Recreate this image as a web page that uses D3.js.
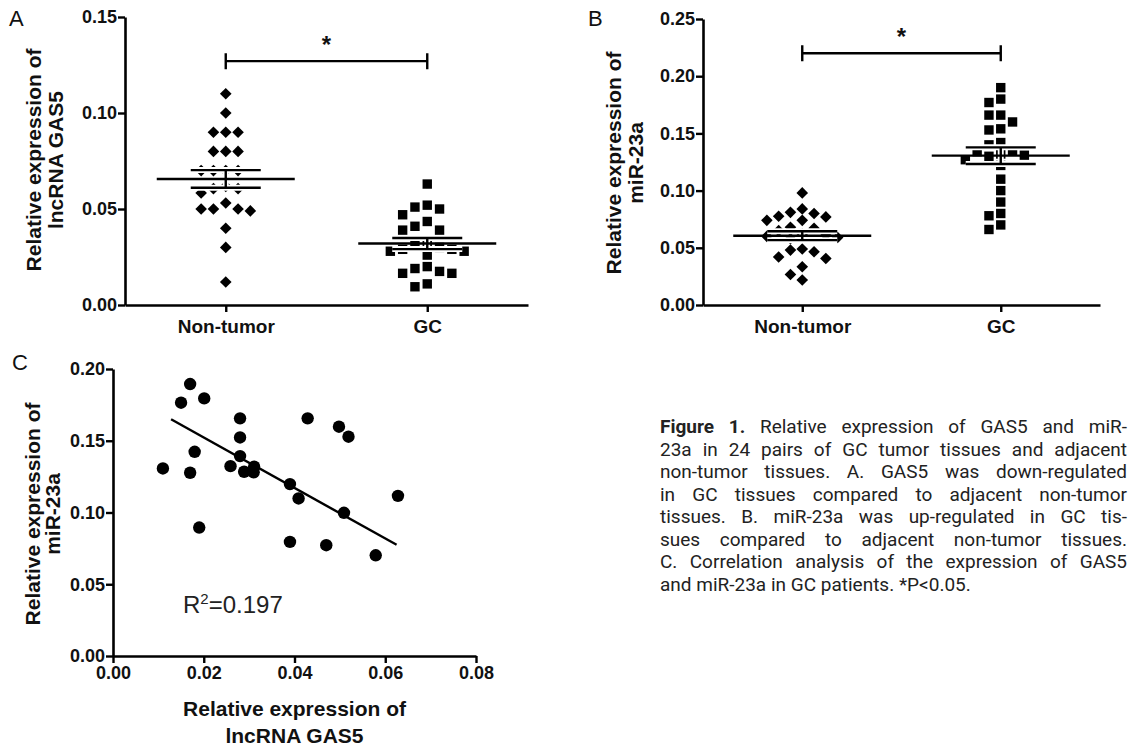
<!DOCTYPE html>
<html>
<head>
<meta charset="utf-8">
<script src="https://cdn.jsdelivr.net/npm/d3@7"></script>
<style>
  body { margin: 0; background: #fff; }
  svg { display: block; }
</style>
</head>
<body>
<svg id="fig" width="1140" height="746"></svg>
<script>
// Panel A: lncRNA GAS5 relative expression
const gasNonTumor = [0.110, 0.100, 0.090, 0.090, 0.090, 0.080, 0.080, 0.080, 0.070, 0.070, 0.070, 0.070,
    0.0618, 0.0606, 0.0606, 0.0583, 0.0531, 0.050, 0.050, 0.050, 0.049, 0.040, 0.030, 0.012];
const gasGC = [0.063, 0.052, 0.051, 0.050, 0.047, 0.0435, 0.041, 0.039, 0.039, 0.032, 0.031, 0.030,
    0.029, 0.029, 0.028, 0.028, 0.026, 0.020, 0.019, 0.0175, 0.0165, 0.0165, 0.011, 0.0095];

// Panel B: miR-23a relative expression
const mirNonTumor = [0.098, 0.084, 0.081, 0.080, 0.0776, 0.077, 0.074, 0.074, 0.068, 0.067, 0.065, 0.062,
    0.061, 0.060, 0.059, 0.058, 0.049, 0.048, 0.0465, 0.042, 0.0407, 0.0334, 0.0267, 0.0218];
const mirGC = [0.190, 0.180, 0.177, 0.166, 0.166, 0.160, 0.154, 0.153, 0.142, 0.140, 0.135, 0.134,
    0.132, 0.131, 0.130, 0.127, 0.122, 0.110, 0.100, 0.090, 0.080, 0.078, 0.070, 0.066];

// Panel C: GAS5 (x) vs miR-23a (y) in GC patients
const corrGAS5 = [0.011, 0.015, 0.017, 0.0201, 0.018, 0.017, 0.019, 0.028, 0.028, 0.028, 0.0259, 0.0289,
    0.0311, 0.031, 0.0429, 0.039, 0.0409, 0.039, 0.047, 0.0498, 0.0519, 0.0509, 0.0579, 0.0628];
const corrMiR = [0.1307, 0.1765, 0.1895, 0.1795, 0.1423, 0.1277, 0.0895, 0.1656, 0.1523, 0.1393, 0.1323, 0.1284,
    0.1319, 0.128, 0.1656, 0.1198, 0.1098, 0.0795, 0.0772, 0.1598, 0.1528, 0.0998, 0.0702, 0.1116];
const fitGAS5 = [0.0128, 0.0625];
const fitMiR = [0.165, 0.0775];
const rSquared = "0.197";

const groups = ["Non-tumor", "GC"];
const ticksA = [0, 0.05, 0.10, 0.15];
const ticksB = [0, 0.05, 0.10, 0.15, 0.20, 0.25];
const ticksCx = [0, 0.02, 0.04, 0.06, 0.08];
const ticksCy = [0, 0.05, 0.10, 0.15, 0.20];
const sigA = 0.127;   // height of the significance bracket
const sigB = 0.220;

const captionLines = [
    ["Figure 1.", " Relative expression of GAS5 and miR-"],
    ["", "23a in 24 pairs of GC tumor tissues and adjacent"],
    ["", "non-tumor tissues. A. GAS5 was down-regulated"],
    ["", "in GC tissues compared to adjacent non-tumor"],
    ["", "tissues. B. miR-23a was up-regulated in GC tis-"],
    ["", "sues compared to adjacent non-tumor tissues."],
    ["", "C. Correlation analysis of the expression of GAS5"],
    ["", "and miR-23a in GC patients. *P<0.05."]
];

const svg = d3.select("#fig");
const FONT = "'Liberation Sans', Arial, sans-serif";

function styleAxis(g, fontSize) {
    g.select(".domain").attr("stroke", "#000").attr("stroke-width", 2.6);
    g.selectAll(".tick line").attr("stroke", "#000").attr("stroke-width", 2.4);
    g.selectAll(".tick text")
        .attr("font-family", FONT)
        .attr("font-weight", "bold")
        .attr("font-size", fontSize)
        .attr("fill", "#111");
}

// simple column beeswarm, like a Prism scatter dot plot
function swarm(values, y, minGap) {
    const placed = [];
    const cols = new Array(values.length);
    const order = values.map((v, i) => i).sort((a, b) => values[b] - values[a]);
    order.forEach(i => {
        const py = y(values[i]);
        for (let k = 0; k < 40; k++) {
            const col = k === 0 ? 0 : (k % 2 ? -Math.ceil(k / 2) : k / 2);
            const clash = placed.some(p => p.col === col && Math.abs(p.py - py) < minGap);
            if (!clash) {
                placed.push({ col: col, py: py });
                cols[i] = col;
                break;
            }
        }
    });
    return cols;
}

function yTitle(x, cy, lines) {
    lines.forEach((t, i) => {
        svg.append("text")
            .attr("transform", `translate(${x[i]},${cy}) rotate(-90)`)
            .attr("text-anchor", "middle")
            .attr("font-family", FONT)
            .attr("font-weight", "bold")
            .attr("font-size", 21)
            .attr("fill", "#111")
            .text(t);
    });
}

function panelLabel(x, y, t) {
    svg.append("text")
        .attr("x", x).attr("y", y)
        .attr("font-family", FONT)
        .attr("font-size", 22)
        .attr("fill", "#111")
        .text(t);
}

function dotPanel(opt) {
    const x = d3.scalePoint().domain(groups).range([opt.x0, opt.x1]).padding(0.5);
    const y = d3.scaleLinear().domain([0, opt.yMax]).range([305, opt.yTop]);
    const g = svg.append("g");

    opt.series.forEach((vals, si) => {
        const cx = x(groups[si]);
        const cols = swarm(vals, y, 10.5);
        const marks = g.append("g");
        if (si === 0) {
            marks.selectAll("path")
                .data(vals)
                .enter()
                .append("path")
                .attr("d", "M0,-5.8L5.8,0L0,5.8L-5.8,0Z")
                .attr("transform", (d, i) => `translate(${cx + cols[i] * opt.step},${y(d)})`)
                .attr("fill", "#000");
        } else {
            marks.selectAll("rect")
                .data(vals)
                .enter()
                .append("rect")
                .attr("x", (d, i) => cx + cols[i] * opt.step - 4.7)
                .attr("y", d => y(d) - 4.7)
                .attr("width", 9.4)
                .attr("height", 9.4)
                .attr("fill", "#000");
        }

        // mean with SEM
        const m = d3.mean(vals);
        const se = d3.deviation(vals) / Math.sqrt(vals.length);
        const sem = [
            [cx - 35, y(m + se), cx + 35, y(m + se)],
            [cx - 35, y(m - se), cx + 35, y(m - se)],
            [cx, y(m + se), cx, y(m - se)]
        ];
        g.selectAll(null).data(sem).enter().append("line")
            .attr("x1", d => d[0]).attr("y1", d => d[1])
            .attr("x2", d => d[2]).attr("y2", d => d[3])
            .attr("stroke", "#fff").attr("stroke-width", 6);
        g.selectAll(null).data(sem.concat([[cx - 69, y(m), cx + 69, y(m)]])).enter().append("line")
            .attr("x1", d => d[0]).attr("y1", d => d[1])
            .attr("x2", d => d[2]).attr("y2", d => d[3])
            .attr("stroke", "#000").attr("stroke-width", 2.4);
    });

    g.append("g")
        .attr("transform", `translate(${opt.x0},0)`)
        .call(d3.axisLeft(y).tickValues(opt.ticks).tickFormat(d3.format(".2f")).tickSize(7).tickSizeOuter(0).tickPadding(1))
        .call(styleAxis, 18);
    g.append("g")
        .attr("transform", "translate(0,305)")
        .call(d3.axisBottom(x).tickSize(7).tickSizeOuter(0).tickPadding(8))
        .call(styleAxis, 19);

    // significance bracket
    const x1 = x(groups[0]), x2 = x(groups[1]), sy = y(opt.sig);
    g.append("path")
        .attr("d", `M${x1},${sy - 8}V${sy + 8}M${x1},${sy}H${x2}M${x2},${sy - 8}V${sy + 8}`)
        .attr("fill", "none").attr("stroke", "#000").attr("stroke-width", 2.4);
    g.append("text")
        .attr("x", (x1 + x2) / 2).attr("y", sy - 8)
        .attr("text-anchor", "middle")
        .attr("font-family", FONT).attr("font-weight", "bold").attr("font-size", 24)
        .attr("fill", "#111")
        .text("*");
}

// Panel A
dotPanel({ x0: 125, x1: 528, yTop: 17, yMax: 0.15, ticks: ticksA, series: [gasNonTumor, gasGC], step: 12.3, sig: sigA });
yTitle([41, 63], 160, ["Relative expression of", "lncRNA GAS5"]);
panelLabel(9, 26, "A");

// Panel B
dotPanel({ x0: 703, x1: 1100, yTop: 19, yMax: 0.25, ticks: ticksB, series: [mirNonTumor, mirGC], step: 11.8, sig: sigB });
yTitle([621, 643], 163, ["Relative expression of", "miR-23a"]);
panelLabel(588, 26, "B");

// Panel C
const xC = d3.scaleLinear().domain([0, 0.08]).range([113, 476]);
const yC = d3.scaleLinear().domain([0, 0.20]).range([656, 369]);
const gC = svg.append("g");

gC.selectAll("circle")
    .data(corrGAS5)
    .enter()
    .append("circle")
    .attr("cx", d => xC(d))
    .attr("cy", (d, i) => yC(corrMiR[i]))
    .attr("r", 6.2)
    .attr("fill", "#000");

gC.append("line")
    .attr("x1", xC(fitGAS5[0])).attr("y1", yC(fitMiR[0]))
    .attr("x2", xC(fitGAS5[1])).attr("y2", yC(fitMiR[1]))
    .attr("stroke", "#000").attr("stroke-width", 2.4);

gC.append("g")
    .attr("transform", "translate(113,0)")
    .call(d3.axisLeft(yC).tickValues(ticksCy).tickFormat(d3.format(".2f")).tickSize(7).tickSizeOuter(0).tickPadding(1))
    .call(styleAxis, 18);
gC.append("g")
    .attr("transform", "translate(0,656)")
    .call(d3.axisBottom(xC).tickValues(ticksCx).tickFormat(d3.format(".2f")).tickSize(7).tickSizeOuter(0).tickPadding(3))
    .call(styleAxis, 18);

const r2 = gC.append("text")
    .attr("x", 183).attr("y", 613)
    .attr("font-family", FONT).attr("font-size", 24).attr("fill", "#222");
r2.append("tspan").text("R");
r2.append("tspan").attr("dy", -9).attr("font-size", 15).text("2");
r2.append("tspan").attr("dy", 9).text("=" + rSquared);

yTitle([40, 60], 514, ["Relative expression of", "miR-23a"]);
["Relative expression of", "lncRNA GAS5"].forEach((t, i) => {
    svg.append("text")
        .attr("x", (113 + 476) / 2).attr("y", 716 + i * 27)
        .attr("text-anchor", "middle")
        .attr("font-family", FONT).attr("font-weight", "bold").attr("font-size", 21)
        .attr("fill", "#111")
        .text(t);
});
panelLabel(12, 370, "C");

// Caption, justified line by line
const capLeft = 660, capRight = 1127, capTop = 433, capStep = 22.5;
captionLines.forEach((ln, i) => {
    const t = svg.append("text")
        .attr("x", capLeft).attr("y", capTop + i * capStep)
        .attr("font-family", "Roboto, 'Noto Sans', sans-serif")
        .attr("font-size", 19)
        .attr("fill", "#222");
    if (ln[0]) t.append("tspan").attr("font-weight", "bold").text(ln[0]);
    t.append("tspan").text(ln[1]);
    if (i < captionLines.length - 1) {
        const natural = t.node().getComputedTextLength();
        const spaces = (ln[0] + ln[1]).split(" ").length - 1;
        if (spaces > 0) t.attr("word-spacing", (capRight - capLeft - natural) / spaces);
    }
});
</script>
</body>
</html>
